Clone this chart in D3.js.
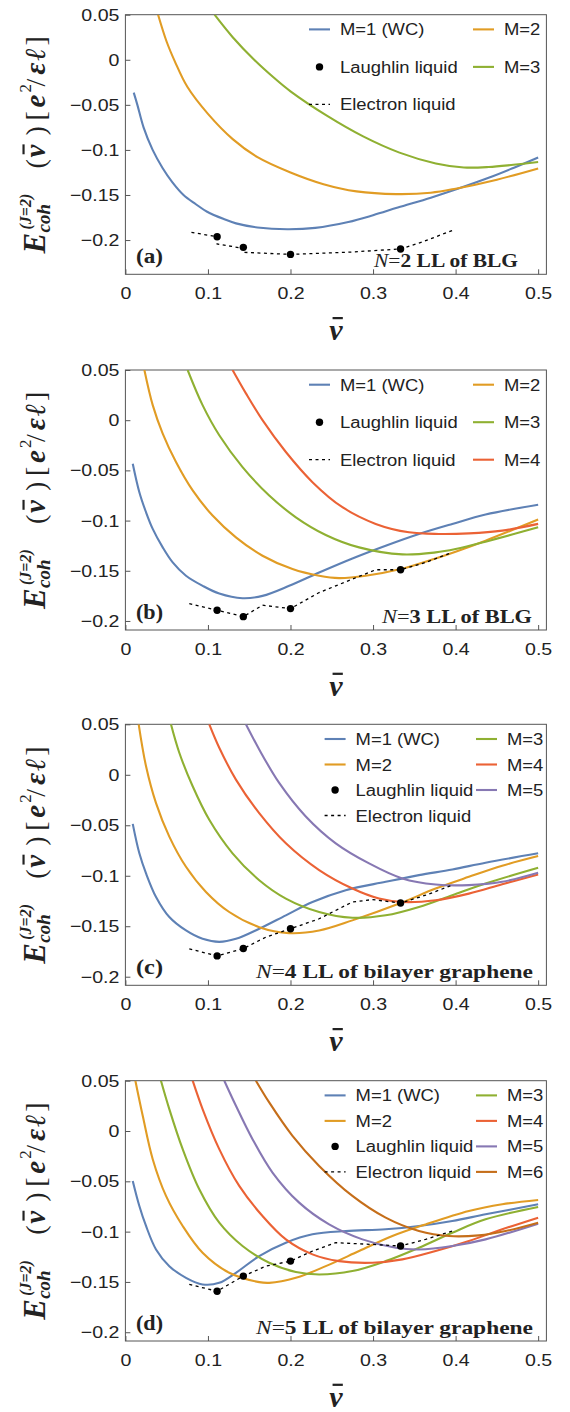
<!DOCTYPE html>
<html>
<head>
<meta charset="utf-8">
<script src="https://cdn.jsdelivr.net/npm/d3@7"></script>
<style>
  body { margin: 0; background: #fff; }
  svg text { font-family: "Liberation Sans", Arial, sans-serif; fill: #222; }
  .serif { font-family: "Liberation Serif", "Times New Roman", serif; }
</style>
</head>
<body>
<div id="graf"></div>
<script>
// ---- datos ----
const xTicks = [0, 0.1, 0.2, 0.3, 0.4, 0.5]
const yTicks = [0.05, 0, -0.05, -0.1, -0.15, -0.2]
const nombres = ['M=1 (WC)', 'M=2', 'M=3', 'M=4', 'M=5', 'M=6']
const colores = ['#5E81B5', '#E19C24', '#8FB032', '#EB6235', '#8778B3', '#C56E1A']

// (a) N=2 LL of BLG
const a_M1 = [[0.0101,-0.0365],[0.0145,-0.05],[0.022,-0.075],[0.033,-0.1],[0.045,-0.12],[0.057,-0.136],[0.0704,-0.15],[0.085,-0.16],[0.099,-0.1686],[0.12,-0.177],[0.134,-0.1815],[0.16,-0.186],[0.196,-0.188],[0.23,-0.1865],[0.27,-0.18],[0.3,-0.1725],[0.33,-0.164],[0.37,-0.153],[0.4,-0.144],[0.44,-0.131],[0.47,-0.12],[0.5,-0.1085]]
const a_M2 = [[0.0396,0.05],[0.05,0.02],[0.06,-0.002],[0.075,-0.03],[0.1,-0.06],[0.13,-0.088],[0.16,-0.108],[0.2,-0.125],[0.24,-0.138],[0.28,-0.146],[0.328,-0.149],[0.37,-0.1475],[0.4,-0.143],[0.45,-0.133],[0.5,-0.1205]]
const a_M3 = [[0.108,0.05],[0.13,0.025],[0.156,0.0],[0.18,-0.02],[0.2,-0.035],[0.244,-0.062],[0.288,-0.085],[0.332,-0.103],[0.376,-0.115],[0.41,-0.1195],[0.44,-0.119],[0.47,-0.1165],[0.5,-0.1135]]
const a_laughlin = [[1/9,-0.1963],[1/7,-0.2081],[1/5,-0.2159],[1/3,-0.2099]]
const a_electron = [[0.08,-0.1915],[0.1111,-0.1963],[0.1111,-0.2044],[0.1429,-0.2092],[0.1429,-0.2136],[0.2,-0.2159],[0.27,-0.2135],[0.3333,-0.2099],[0.36,-0.202],[0.397,-0.189]]

// (b) N=3 LL of BLG
const b_M1 = [[0.0089,-0.0433],[0.0169,-0.0717],[0.025,-0.0917],[0.0331,-0.1083],[0.0452,-0.1267],[0.0573,-0.1417],[0.0734,-0.155],[0.0935,-0.165],[0.1137,-0.1727],[0.1419,-0.1773],[0.1661,-0.175],[0.1984,-0.165],[0.2347,-0.1517],[0.275,-0.1377],[0.3153,-0.125],[0.3556,-0.1133],[0.396,-0.1033],[0.4363,-0.094],[0.5,-0.0843]]
const b_M2 = [[0.023,0.05],[0.0331,0.015],[0.0452,-0.0133],[0.0613,-0.0417],[0.0815,-0.07],[0.1056,-0.095],[0.1339,-0.1167],[0.1661,-0.135],[0.2024,-0.1483],[0.2347,-0.155],[0.2589,-0.1573],[0.2911,-0.155],[0.3335,-0.1483],[0.3758,-0.1377],[0.4,-0.131],[0.4363,-0.12],[0.5,-0.099]]
const b_M3 = [[0.0754,0.05],[0.0935,0.015],[0.1137,-0.015],[0.1419,-0.0467],[0.1742,-0.075],[0.2065,-0.0967],[0.2427,-0.1143],[0.2831,-0.1267],[0.3355,-0.1337],[0.3758,-0.1317],[0.4,-0.1283],[0.4363,-0.121],[0.5,-0.1067]]
const b_M4 = [[0.1298,0.05],[0.146,0.0267],[0.1661,0.0],[0.1944,-0.0317],[0.2266,-0.0617],[0.2629,-0.0867],[0.3032,-0.1033],[0.3435,-0.1117],[0.3798,-0.1133],[0.4161,-0.1127],[0.4565,-0.11],[0.5,-0.1033]]
const b_laughlin = [[1/9,-0.1893],[1/7,-0.1957],[1/5,-0.1877],[1/3,-0.149]]
const b_electron = [[0.0774,-0.1827],[0.1111,-0.1893],[0.1429,-0.1957],[0.1661,-0.1843],[0.2,-0.1877],[0.2347,-0.1717],[0.275,-0.1583],[0.3032,-0.149],[0.3333,-0.149],[0.3637,-0.1417],[0.396,-0.1317]]

// (c) N=4 LL of bilayer graphene
const c_M1 = [[0.0089,-0.0486],[0.0169,-0.0778],[0.025,-0.0977],[0.0371,-0.121],[0.0532,-0.1409],[0.0734,-0.1542],[0.0935,-0.1625],[0.1137,-0.1655],[0.1339,-0.1625],[0.1621,-0.1525],[0.1944,-0.1392],[0.2266,-0.126],[0.2669,-0.1143],[0.3153,-0.106],[0.3556,-0.0994],[0.396,-0.0938],[0.4363,-0.0871],[0.5,-0.0778]]
const c_M2 = [[0.0161,0.05],[0.025,0.0085],[0.0371,-0.028],[0.0532,-0.0612],[0.0734,-0.0911],[0.0976,-0.116],[0.1258,-0.1359],[0.1621,-0.1509],[0.1984,-0.1568],[0.2347,-0.1542],[0.275,-0.1442],[0.3335,-0.127],[0.3758,-0.1127],[0.4161,-0.1011],[0.4565,-0.0901],[0.5,-0.0805]]
const c_M3 = [[0.0552,0.05],[0.0653,0.0218],[0.0815,-0.0114],[0.1016,-0.0446],[0.1298,-0.0778],[0.1621,-0.1044],[0.1944,-0.1226],[0.2347,-0.1359],[0.275,-0.1416],[0.3153,-0.1392],[0.3556,-0.1309],[0.396,-0.1193],[0.4363,-0.1077],[0.5,-0.0921]]
const c_M4 = [[0.1016,0.05],[0.1137,0.0268],[0.1339,-0.0048],[0.1621,-0.038],[0.1944,-0.0679],[0.2347,-0.0944],[0.275,-0.1127],[0.3073,-0.1226],[0.3355,-0.126],[0.3758,-0.1243],[0.4161,-0.1177],[0.4565,-0.1084],[0.5,-0.0987]]
const c_M5 = [[0.146,0.05],[0.1621,0.0251],[0.1863,-0.0081],[0.2185,-0.0413],[0.2548,-0.0679],[0.2952,-0.0878],[0.3355,-0.1027],[0.3758,-0.1087],[0.4161,-0.1093],[0.4565,-0.106],[0.5,-0.0971]]
const c_laughlin = [[1/9,-0.1794],[1/7,-0.1721],[1/5,-0.1525],[1/3,-0.127]]
const c_electron = [[0.0774,-0.1724],[0.1111,-0.1794],[0.1429,-0.1721],[0.1702,-0.1608],[0.2,-0.1525],[0.2347,-0.1426],[0.275,-0.126],[0.2992,-0.1236],[0.3333,-0.127],[0.3637,-0.1193],[0.396,-0.1093]]

// (d) N=5 LL of bilayer graphene
const d_M1 = [[0.0089,-0.0496],[0.0169,-0.0745],[0.025,-0.0944],[0.0371,-0.1177],[0.0532,-0.1343],[0.0734,-0.1459],[0.0935,-0.1525],[0.1137,-0.1509],[0.1339,-0.1409],[0.1621,-0.1243],[0.1944,-0.111],[0.2266,-0.1027],[0.2669,-0.0994],[0.3153,-0.0977],[0.3556,-0.0944],[0.396,-0.0894],[0.4363,-0.0828],[0.5,-0.0728]]
const d_M2 = [[0.0121,0.05],[0.021,0.0151],[0.0331,-0.028],[0.0492,-0.0645],[0.0694,-0.0944],[0.0935,-0.121],[0.1258,-0.1409],[0.1621,-0.1502],[0.1742,-0.1509],[0.2065,-0.1459],[0.2427,-0.1343],[0.2831,-0.1193],[0.3234,-0.1044],[0.3637,-0.0928],[0.4161,-0.0795],[0.4565,-0.0728],[0.5,-0.0685]]
const d_M3 = [[0.0431,0.05],[0.0532,0.0218],[0.0694,-0.018],[0.0895,-0.0579],[0.1137,-0.0911],[0.1419,-0.1143],[0.1742,-0.1309],[0.2065,-0.1402],[0.2347,-0.1426],[0.275,-0.1392],[0.3153,-0.1293],[0.3556,-0.116],[0.396,-0.1011],[0.4363,-0.0878],[0.5,-0.0755]]
const d_M4 = [[0.0815,0.05],[0.0935,0.0218],[0.1137,-0.018],[0.1379,-0.0546],[0.1661,-0.0845],[0.1944,-0.1077],[0.2266,-0.1226],[0.2589,-0.1293],[0.2992,-0.1309],[0.3355,-0.1276],[0.3758,-0.1193],[0.4161,-0.1093],[0.4565,-0.0977],[0.5,-0.0861]]
const d_M5 = [[0.1198,0.05],[0.1339,0.0251],[0.154,-0.0081],[0.1782,-0.0413],[0.2105,-0.0712],[0.2468,-0.0928],[0.2871,-0.1077],[0.3274,-0.116],[0.3556,-0.1177],[0.396,-0.1143],[0.4363,-0.1077],[0.5,-0.0921]]
const d_M6 = [[0.1581,0.05],[0.1742,0.0284],[0.2024,-0.0048],[0.2347,-0.0347],[0.275,-0.0645],[0.3153,-0.0861],[0.3556,-0.0994],[0.392,-0.1044],[0.4282,-0.1037],[0.4605,-0.0994],[0.5,-0.0911]]
const d_laughlin = [[1/9,-0.1592],[1/7,-0.1442],[1/5,-0.1293],[1/3,-0.1143]]
const d_electron = [[0.0774,-0.1525],[0.1111,-0.1592],[0.1429,-0.1442],[0.1702,-0.1343],[0.2,-0.1293],[0.2266,-0.1193],[0.2548,-0.111],[0.2992,-0.1127],[0.3333,-0.1143],[0.3637,-0.1077],[0.396,-0.0994]]

// ---- layout ----
const anchoTotal = 570
const altoTotal = 1412
const izq = 125.4, der = 546.4
const estirar = 1.15   // la figura original esta algo ensanchada
const grosor = 2.1

const paneles = [
  { tag: '(a)', n: '2', sis: 'LL of BLG', top: 14.7, bottom: 274.3, yMin: -0.238,
    curvas: [a_M1, a_M2, a_M3], puntos: a_laughlin, liquido: a_electron,
    leg: { x1: 309, x2: 473, dy: 37.5, compacto: false }, notaFin: 518, notaLargo: 144 },
  { tag: '(b)', n: '3', sis: 'LL of BLG', top: 370, bottom: 630, yMin: -0.209,
    curvas: [b_M1, b_M2, b_M3, b_M4], puntos: b_laughlin, liquido: b_electron,
    leg: { x1: 309, x2: 473, dy: 37.5, compacto: false }, notaFin: 532, notaLargo: 150 },
  { tag: '(c)', n: '4', sis: 'LL of bilayer graphene', top: 724.3, bottom: 985.3, yMin: -0.2085,
    curvas: [c_M1, c_M2, c_M3, c_M4, c_M5], puntos: c_laughlin, liquido: c_electron,
    leg: { x1: 324.6, x2: 476, dy: 25.5, compacto: true }, notaFin: 533, notaLargo: 277 },
  { tag: '(d)', n: '5', sis: 'LL of bilayer graphene', top: 1080.7, bottom: 1341, yMin: -0.2087,
    curvas: [d_M1, d_M2, d_M3, d_M4, d_M5, d_M6], puntos: d_laughlin, liquido: d_electron,
    leg: { x1: 324.6, x2: 476, dy: 25.5, compacto: true }, notaFin: 533, notaLargo: 277 },
]

const svg = d3.select('#graf')
  .append('svg')
  .attr('width', anchoTotal)
  .attr('height', altoTotal)

const x = d3.scaleLinear().domain([0, 0.51]).range([izq, der])

function ensanchar(sel, k) {
  sel.each(function () {
    const w = this.getComputedTextLength()
    d3.select(this).attr('textLength', w * k).attr('lengthAdjust', 'spacingAndGlyphs')
  })
}

// nu con barra: el macron se dibuja como una raya encima
function nuBarra(g, x0, base, size, anchor) {
  const t = g.append('text').attr('class', 'serif')
    .attr('x', x0).attr('y', base)
    .attr('text-anchor', anchor || 'start')
    .attr('font-size', size).attr('font-weight', 'bold').attr('font-style', 'italic')
    .text('\u03BD')
  const w = t.node().getComputedTextLength()
  const xs = anchor === 'middle' ? x0 - w / 2 : x0
  g.append('line')
    .attr('x1', xs + w * 0.25).attr('x2', xs + w * 1.02)
    .attr('y1', base - size * 0.74).attr('y2', base - size * 0.74)
    .attr('stroke', '#222').attr('stroke-width', size * 0.075)
}

paneles.forEach((p, i) => {
  const y = d3.scaleLinear().domain([p.yMin, 0.05]).range([p.bottom, p.top])
  const g = svg.append('g')

  g.append('clipPath').attr('id', 'clip' + i)
    .append('rect')
    .attr('x', izq).attr('y', p.top)
    .attr('width', der - izq).attr('height', p.bottom - p.top)

  // ejes
  g.append('g')
    .attr('transform', `translate(${izq},0)`)
    .call(d3.axisLeft(y).tickValues(yTicks).tickSize(-5).tickPadding(6)
      .tickFormat(d => d === 0 ? '0' : d3.format('.2~f')(d)))
  g.append('g')
    .attr('transform', `translate(0,${p.bottom})`)
    .call(d3.axisBottom(x).tickValues(xTicks).tickSize(-5).tickPadding(13)
      .tickFormat(d => d === 0 ? '0' : d3.format('.1f')(d)))
  g.selectAll('.domain').remove()
  g.selectAll('.tick line').attr('stroke', '#555')
  g.selectAll('.tick text').attr('font-size', 17).attr('fill', '#222')
  ensanchar(g.selectAll('.tick text'), estirar)

  g.append('rect')
    .attr('x', izq).attr('y', p.top)
    .attr('width', der - izq).attr('height', p.bottom - p.top)
    .attr('fill', 'none').attr('stroke', '#555').attr('stroke-width', 1)

  const plot = g.append('g').attr('clip-path', `url(#clip${i})`)

  const linea = d3.line()
    .x(d => x(d[0])).y(d => y(d[1]))
    .curve(d3.curveCatmullRom.alpha(0.5))

  plot.selectAll('path.curva')
    .data(p.curvas)
    .enter()
    .append('path')
    .attr('class', 'curva')
    .attr('d', linea)
    .attr('fill', 'none')
    .attr('stroke', (d, k) => colores[k])
    .attr('stroke-width', grosor)

  plot.append('path')
    .attr('d', d3.line().x(d => x(d[0])).y(d => y(d[1]))(p.liquido))
    .attr('fill', 'none')
    .attr('stroke', '#000')
    .attr('stroke-width', 1.3)
    .attr('stroke-dasharray', '3,3.5')

  plot.selectAll('circle')
    .data(p.puntos)
    .enter()
    .append('circle')
    .attr('cx', d => x(d[0]))
    .attr('cy', d => y(d[1]))
    .attr('r', 3.7)
    .attr('fill', '#000')

  // leyenda
  const L = p.leg
  const filaY = k => p.top + 14.7 + k * L.dy
  const items = []
  if (L.compacto) {
    items.push({ col: 0, fila: 0, tipo: 'linea', k: 0 })
    items.push({ col: 0, fila: 1, tipo: 'linea', k: 1 })
    items.push({ col: 0, fila: 2, tipo: 'punto' })
    items.push({ col: 0, fila: 3, tipo: 'guion' })
    for (let k = 2; k < p.curvas.length; k++) items.push({ col: 1, fila: k - 2, tipo: 'linea', k })
  } else {
    items.push({ col: 0, fila: 0, tipo: 'linea', k: 0 })
    items.push({ col: 0, fila: 1, tipo: 'punto' })
    items.push({ col: 0, fila: 2, tipo: 'guion' })
    for (let k = 1; k < p.curvas.length; k++) items.push({ col: 1, fila: k - 1, tipo: 'linea', k })
  }
  const leg = g.append('g')
  items.forEach(it => {
    const x0 = it.col === 0 ? L.x1 : L.x2
    const yy = filaY(it.fila)
    if (it.tipo === 'linea') {
      leg.append('line').attr('x1', x0).attr('x2', x0 + 21).attr('y1', yy).attr('y2', yy)
        .attr('stroke', colores[it.k]).attr('stroke-width', grosor)
    } else if (it.tipo === 'punto') {
      leg.append('circle').attr('cx', x0 + 10.5).attr('cy', yy).attr('r', 3.7).attr('fill', '#000')
    } else {
      leg.append('line').attr('x1', x0).attr('x2', x0 + 21).attr('y1', yy).attr('y2', yy)
        .attr('stroke', '#000').attr('stroke-width', 1.3).attr('stroke-dasharray', '3,3.5')
    }
    const txt = it.tipo === 'linea' ? nombres[it.k] : (it.tipo === 'punto' ? 'Laughlin liquid' : 'Electron liquid')
    leg.append('text')
      .attr('x', x0 + 31).attr('y', yy + 6)
      .attr('font-size', 16)
      .text(txt)
  })
  ensanchar(leg.selectAll('text'), estirar)

  // etiqueta del panel y del sistema
  g.append('text').attr('class', 'serif')
    .attr('x', 136).attr('y', p.bottom - 11)
    .attr('font-size', 20).attr('font-weight', 'bold')
    .attr('textLength', 27).attr('lengthAdjust', 'spacingAndGlyphs')
    .text(p.tag)

  const nota = g.append('text').attr('class', 'serif')
    .attr('x', p.notaFin).attr('y', p.bottom - 7)
    .attr('text-anchor', 'end')
    .attr('font-size', 19)
    .attr('textLength', p.notaLargo).attr('lengthAdjust', 'spacingAndGlyphs')
  nota.append('tspan').attr('font-style', 'italic').text('N')
  nota.append('tspan').text('=')
  nota.append('tspan').attr('font-weight', 'bold').text(p.n + ' ' + p.sis)

  // titulo eje x
  nuBarra(g, (izq + der) / 2, p.bottom + 66, 30, 'middle')

  // titulo eje y (rotado, coordenadas locales a lo largo del texto)
  const cy = (p.top + p.bottom) / 2 - 2
  const t = g.append('g').attr('transform', `translate(37,${cy}) rotate(-90)`)
  const pieza = (txt, x0, y0, size, bi) => t.append('text').attr('class', 'serif')
    .attr('x', x0).attr('y', y0).attr('font-size', size)
    .attr('font-weight', bi ? 'bold' : 'normal').attr('font-style', bi ? 'italic' : 'normal')
    .text(txt)
  pieza('E', -111, 8, 31, true)
  pieza('coh', -90, 13, 19, true)
  pieza('(J=2)', -87, -6, 16, true)
  pieza('(', -26, 8, 28, false)
  nuBarra(t, -15, 8, 29, 'start')
  pieza(')', 7, 8, 28, false)
  pieza('[', 22, 8, 28, false)
  pieza('e', 35, 8, 29, true)
  pieza('2', 50, -6, 17, false)
  pieza('/', 56, 8, 28, false)
  pieza('\u03B5', 68, 8, 29, true)
  pieza('\u2113', 82, 8, 29, true)
  pieza(']', 97, 8, 28, false)
})
</script>
</body>
</html>
